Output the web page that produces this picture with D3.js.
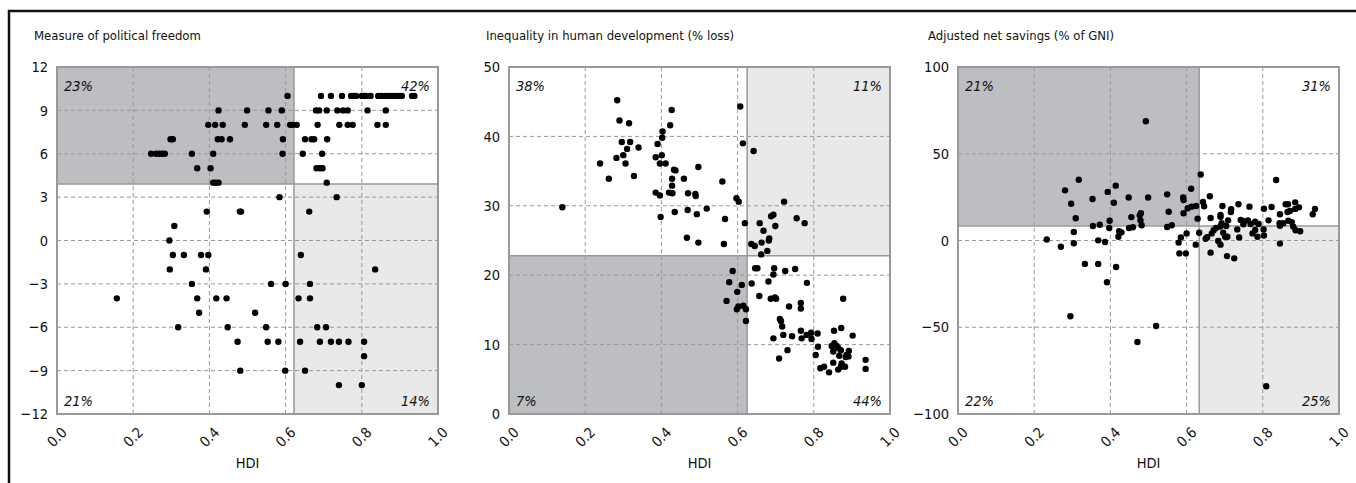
<!DOCTYPE html>
<html>
<head>
<meta charset="utf-8">
<script src="https://cdn.jsdelivr.net/npm/d3@7"></script>
<style>
  body { margin: 0; background: #fff; }
  svg { display: block; }
  text { font-family: "Liberation Sans Narrow", "DejaVu Sans Condensed", "Roboto Condensed", sans-serif; fill: #111; }
</style>
</head>
<body>
<svg id="chart" width="1356" height="483"></svg>
<script>
// titles, splits and quadrant shares (TL, TR, BL, BR)
var titles = ['Measure of political freedom', 'Inequality in human development (% loss)', 'Adjusted net savings (% of GNI)'];
var yDomains = [[-12, 12], [0, 50], [-100, 100]];
var yTicks = [[-12, -9, -6, -3, 0, 3, 6, 9, 12], [0, 10, 20, 30, 40, 50], [-100, -50, 0, 50, 100]];
var xTicks = [0, 0.2, 0.4, 0.6, 0.8, 1.0];
var hdiSplit = [0.622, 0.625, 0.633];
var valueSplit = [3.9, 22.8, 8.4];
var shares = [['23%', '42%', '21%', '14%'], ['38%', '11%', '7%', '44%'], ['21%', '31%', '22%', '25%']];
// which quadrant is dark / light: TL, TR, BL, BR
var shading = [['dark', 'white', 'white', 'light'], ['white', 'light', 'dark', 'white'], ['dark', 'white', 'white', 'light']];

// [HDI, political freedom score]
var freedom = [
  [0.605,10],[0.693,10],[0.719,10],[0.748,10],[0.772,10],[0.779,10],[0.785,10],[0.80,10],[0.806,10],[0.811,10],[0.823,10],
  [0.843,10],[0.851,10],[0.859,10],[0.867,10],[0.875,10],[0.883,10],[0.891,10],[0.899,10],[0.905,10],[0.932,10],[0.938,10],
  [0.424,9],[0.499,9],[0.555,9],[0.59,9],[0.680,9],[0.688,9],[0.708,9],[0.736,9],[0.751,9],[0.763,9],[0.815,9],[0.863,9],
  [0.397,8],[0.415,8],[0.435,8],[0.493,8],[0.549,8],[0.578,8],[0.612,8],[0.619,8],[0.629,8],[0.684,8],[0.741,8],[0.763,8],[0.776,8],[0.841,8],[0.863,8],
  [0.298,7],[0.304,7],[0.422,7],[0.432,7],[0.454,7],[0.593,7],[0.651,7],[0.668,7],[0.675,7],[0.709,7],
  [0.247,6],[0.260,6],[0.268,6],[0.276,6],[0.283,6],[0.354,6],[0.410,6],[0.592,6],[0.645,6],[0.696,6],
  [0.368,5],[0.403,5],[0.681,5],[0.690,5],[0.697,5],
  [0.410,4],[0.417,4],[0.424,4],[0.708,4],
  [0.584,3],[0.734,3],
  [0.393,2],[0.480,2],[0.483,2],[0.662,2],
  [0.308,1],[0.295,0],
  [0.304,-1],[0.333,-1],[0.378,-1],[0.397,-1],[0.640,-1],
  [0.296,-2],[0.391,-2],[0.835,-2],
  [0.354,-3],[0.562,-3],[0.600,-3],[0.664,-3],
  [0.157,-4],[0.368,-4],[0.418,-4],[0.445,-4],[0.634,-4],[0.664,-4],
  [0.373,-5],[0.520,-5],
  [0.318,-6],[0.448,-6],[0.549,-6],[0.683,-6],[0.706,-6],
  [0.474,-7],[0.553,-7],[0.581,-7],[0.638,-7],[0.690,-7],[0.719,-7],[0.740,-7],[0.765,-7],[0.806,-7],
  [0.806,-8],
  [0.481,-9],[0.599,-9],[0.651,-9],
  [0.740,-10],[0.800,-10]
];

// [HDI, inequality loss %]
var inequality = [
  [0.284,45.2],[0.290,42.3],[0.315,41.9],[0.296,39.2],[0.318,39.2],[0.310,38.2],[0.340,38.4],[0.300,37.3],[0.282,36.9],
  [0.306,36.1],[0.239,36.1],[0.262,33.9],[0.328,34.3],[0.140,29.8],[0.427,43.8],[0.423,41.6],[0.403,40.7],[0.402,39.8],
  [0.390,38.9],[0.401,37.3],[0.385,37.0],[0.396,36.1],[0.411,36.1],[0.433,35.2],[0.437,35.1],[0.497,35.6],[0.428,33.9],
  [0.428,32.9],[0.459,33.9],[0.560,33.5],[0.385,31.9],[0.396,31.5],[0.420,31.9],[0.429,31.8],[0.470,31.8],[0.489,31.7],
  [0.490,31.4],[0.597,31.1],[0.603,30.6],[0.607,44.3],[0.614,39.0],[0.642,37.9],[0.398,28.4],[0.435,29.1],[0.469,29.4],
  [0.493,28.8],[0.519,29.6],[0.567,28.1],[0.619,27.5],[0.722,30.6],[0.658,27.5],[0.668,26.4],[0.688,28.5],[0.694,28.7],
  [0.699,27.1],[0.755,28.2],[0.776,27.5],[0.683,25.3],[0.467,25.4],[0.497,24.7],[0.564,24.5],[0.636,24.5],[0.645,24.2],
  [0.663,24.7],[0.682,25.0],[0.662,23.0],[0.678,23.5],[0.587,20.6],[0.578,19.0],[0.611,18.6],[0.599,17.6],[0.571,16.3],
  [0.598,15.1],[0.602,15.5],[0.615,15.6],[0.622,15.1],[0.622,13.4],[0.646,21.0],[0.652,21.0],[0.696,21.0],[0.694,20.1],
  [0.725,20.6],[0.751,20.9],[0.637,18.8],[0.681,19.1],[0.782,18.9],[0.657,17.0],[0.687,16.6],[0.698,16.8],[0.701,16.6],
  [0.735,15.5],[0.766,16.0],[0.766,15.2],[0.877,16.6],[0.711,13.7],[0.714,13.4],[0.717,12.6],[0.720,11.4],[0.743,11.2],
  [0.766,12.0],[0.768,10.9],[0.694,10.9],[0.731,9.2],[0.709,8.0],[0.781,11.4],[0.793,11.7],[0.794,10.8],[0.810,11.6],
  [0.811,9.7],[0.805,8.5],[0.817,6.6],[0.827,6.8],[0.840,6.0],[0.853,12.0],[0.872,12.4],[0.847,9.8],[0.854,10.2],
  [0.851,9.0],[0.860,9.8],[0.864,9.5],[0.871,9.2],[0.867,8.4],[0.851,7.4],[0.864,6.4],[0.871,6.8],[0.873,7.3],
  [0.882,6.8],[0.884,8.2],[0.886,8.5],[0.892,9.1],[0.891,8.3],[0.902,11.3],[0.936,7.8],[0.936,6.5]
];

// [HDI, adjusted net savings % of GNI]
var savings = [
  [0.493,68.7],[0.317,35.0],[0.281,28.9],[0.297,21.2],[0.309,12.8],[0.304,4.9],[0.353,23.9],[0.354,8.4],[0.372,9.1],
  [0.393,28.0],[0.414,31.6],[0.409,21.8],[0.398,11.4],[0.397,7.2],[0.423,5.3],[0.429,4.7],[0.421,2.2],[0.448,24.8],
  [0.455,13.5],[0.449,7.2],[0.459,7.6],[0.477,14.5],[0.480,15.7],[0.479,11.6],[0.482,8.8],[0.499,24.8],[0.549,26.6],
  [0.553,16.6],[0.549,7.8],[0.561,8.8],[0.591,24.8],[0.592,23.3],[0.612,29.8],[0.592,15.7],[0.603,18.6],[0.613,19.5],
  [0.625,19.9],[0.637,38.0],[0.629,12.6],[0.643,22.2],[0.646,19.7],[0.661,25.5],[0.663,13.0],[0.694,19.9],[0.689,13.7],
  [0.717,18.0],[0.716,16.4],[0.736,20.9],[0.765,19.5],[0.803,18.3],[0.823,19.3],[0.835,34.9],[0.860,20.9],[0.866,20.9],
  [0.885,22.0],[0.895,19.1],[0.865,16.4],[0.871,17.0],[0.845,15.1],[0.885,18.2],[0.937,18.2],[0.931,15.1],[0.815,11.6],
  [0.844,10.0],[0.845,8.5],[0.854,10.0],[0.867,11.4],[0.876,10.6],[0.880,8.0],[0.886,5.9],[0.898,5.3],[0.802,6.4],
  [0.803,2.9],[0.789,9.5],[0.780,10.8],[0.761,11.6],[0.768,9.5],[0.751,11.1],[0.742,11.8],[0.749,9.3],[0.773,4.1],
  [0.780,6.1],[0.786,2.2],[0.733,6.4],[0.738,1.8],[0.704,8.4],[0.709,11.6],[0.689,14.7],[0.692,9.9],[0.688,8.0],
  [0.677,7.2],[0.671,5.9],[0.666,4.1],[0.654,1.9],[0.650,1.0],[0.696,4.5],[0.701,2.2],[0.707,2.2],[0.633,4.5],
  [0.600,4.1],[0.585,1.8],[0.233,0.6],[0.270,-3.6],[0.304,-1.6],[0.333,-13.5],[0.368,-13.5],[0.368,0.1],[0.386,-0.9],
  [0.415,-15.3],[0.391,-24.1],[0.295,-43.7],[0.471,-58.5],[0.520,-49.3],[0.579,-1.2],[0.581,-7.4],[0.598,-7.4],
  [0.624,-2.4],[0.663,-7.0],[0.689,-2.4],[0.706,-9.0],[0.725,-10.3],[0.845,-1.8],[0.809,-84.0],[0.683,-0.3]
];

var datasets = [freedom, inequality, savings];
var panelLeft = [57, 509, 958];
var titleLeft = [34, 486, 928];
var plotW = 381, plotTop = 67, plotBottom = 414;

var svg = d3.select('#chart');

// outer frame
svg.append('path')
  .attr('d', 'M9,1000 L9,11 L1400,11')
  .style('fill', 'none')
  .style('stroke', '#111')
  .style('stroke-width', 2.5);

var fills = { dark: '#bdbec2', light: '#e9e9e9', white: '#ffffff' };

datasets.forEach(function(data, i) {
  var x = d3.scaleLinear().domain([0, 1]).range([panelLeft[i], panelLeft[i] + plotW]);
  var y = d3.scaleLinear().domain(yDomains[i]).range([plotBottom, plotTop]);
  var g = svg.append('g');

  var sx = x(hdiSplit[i]), sy = y(valueSplit[i]);
  var x0 = x(0), x1 = x(1), y0 = y(yDomains[i][1]), y1 = y(yDomains[i][0]);
  var quads = [
    [x0, y0, sx - x0, sy - y0],
    [sx, y0, x1 - sx, sy - y0],
    [x0, sy, sx - x0, y1 - sy],
    [sx, sy, x1 - sx, y1 - sy]
  ];
  g.selectAll('rect.quad')
    .data(quads)
    .enter().append('rect')
      .attr('x', function(d) { return d[0]; })
      .attr('y', function(d) { return d[1]; })
      .attr('width', function(d) { return d[2]; })
      .attr('height', function(d) { return d[3]; })
      .style('fill', function(d, k) { return fills[shading[i][k]]; });

  // dashed grid
  g.selectAll('line.vgrid')
    .data(xTicks.slice(1, -1))
    .enter().append('line')
      .attr('x1', function(d) { return x(d); })
      .attr('x2', function(d) { return x(d); })
      .attr('y1', y0).attr('y2', y1)
      .style('stroke', '#999').style('stroke-dasharray', '4,3').style('stroke-width', 1);
  g.selectAll('line.hgrid')
    .data(yTicks[i].slice(1, -1))
    .enter().append('line')
      .attr('y1', function(d) { return y(d); })
      .attr('y2', function(d) { return y(d); })
      .attr('x1', x0).attr('x2', x1)
      .style('stroke', '#999').style('stroke-dasharray', '4,3').style('stroke-width', 1);

  // split lines and frame
  g.append('line').attr('x1', sx).attr('x2', sx).attr('y1', y0).attr('y2', y1)
    .style('stroke', '#999').style('stroke-width', 1.5);
  g.append('line').attr('x1', x0).attr('x2', x1).attr('y1', sy).attr('y2', sy)
    .style('stroke', '#999').style('stroke-width', 1.5);
  g.append('rect').attr('x', x0).attr('y', y0).attr('width', x1 - x0).attr('height', y1 - y0)
    .style('fill', 'none').style('stroke', '#999').style('stroke-width', 2);

  // quadrant shares
  var pos = [[x0 + 7, y0 + 24, 'start'], [x1 - 8, y0 + 24, 'end'], [x0 + 7, y1 - 8, 'start'], [x1 - 8, y1 - 8, 'end']];
  g.selectAll('text.share')
    .data(shares[i])
    .enter().append('text')
      .attr('x', function(d, k) { return pos[k][0]; })
      .attr('y', function(d, k) { return pos[k][1]; })
      .attr('text-anchor', function(d, k) { return pos[k][2]; })
      .style('font-style', 'italic')
      .style('font-size', '14.5px')
      .text(function(d) { return d; });

  // dots
  g.selectAll('circle')
    .data(data)
    .enter().append('circle')
      .attr('cx', function(d) { return x(d[0]); })
      .attr('cy', function(d) { return y(d[1]); })
      .attr('r', 3.2)
      .style('fill', '#000');

  // y axis labels
  var yAxis = d3.axisLeft(y).tickValues(yTicks[i]).tickSize(0).tickPadding(9)
    .tickFormat(function(d) { return d < 0 ? '\u2212' + Math.abs(d) : d; });
  var ya = g.append('g').attr('transform', 'translate(' + x0 + ',0)').call(yAxis);
  ya.select('.domain').remove();
  ya.selectAll('text').style('font-size', '14.5px').style('font-family', null).style('fill', '#111');

  // x axis labels, rotated
  g.selectAll('text.xt')
    .data(xTicks)
    .enter().append('text')
      .attr('transform', function(d) { return 'translate(' + x(d) + ',437) rotate(-45)'; })
      .attr('text-anchor', 'middle')
      .attr('dy', '0.35em')
      .style('font-size', '14.5px')
      .text(function(d) { return d.toFixed(1); });

  g.append('text')
    .attr('x', (x0 + x1) / 2).attr('y', 468)
    .attr('text-anchor', 'middle')
    .style('font-size', '14.5px')
    .text('HDI');

  g.append('text')
    .attr('x', titleLeft[i]).attr('y', 40)
    .style('font-size', '13px')
    .text(titles[i]);
});
</script>
</body>
</html>
